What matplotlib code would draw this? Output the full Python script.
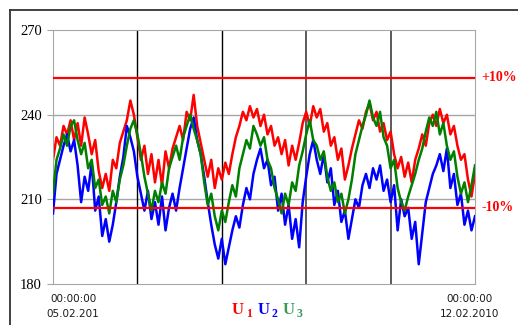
import numpy as np
import matplotlib.pyplot as plt
from matplotlib.lines import Line2D

# phase voltages, one reading every ~1.4 h over the week (V)
u1 = [224, 232, 229, 236, 233, 238, 231, 237, 229, 239,
      233, 226, 231, 220, 214, 219, 213, 224, 221, 230,
      234, 238, 245, 240, 232, 224, 229, 219, 226, 216,
      224, 215, 227, 221, 228, 232, 236, 231, 241, 238,
      247, 236, 230, 224, 218, 224, 214, 221, 217, 223,
      219, 226, 232, 236, 241, 238, 243, 239, 242, 236,
      240, 233, 236, 229, 232, 226, 231, 222, 229, 224,
      230, 237, 241, 236, 243, 239, 242, 234, 237, 229,
      232, 224, 228, 217, 222, 228, 233, 238, 235, 241,
      244, 238, 241, 234, 237, 231, 234, 226, 221, 225,
      218, 223, 216, 224, 228, 233, 229, 237, 240, 236,
      242, 237, 240, 233, 236, 229, 224, 226, 217, 211,
      219]
u2 = [205, 219, 224, 229, 233, 227, 231, 222, 209, 218,
      213, 223, 206, 211, 197, 203, 195, 201, 209, 218,
      225, 236, 232, 227, 218, 212, 206, 213, 203, 209,
      201, 211, 199, 207, 212, 206, 214, 221, 228, 235,
      239, 231, 226, 218, 209, 201, 194, 189, 196, 187,
      193, 199, 204, 200, 208, 214, 210, 219, 224, 228,
      221, 224, 215, 218, 206, 212, 201, 208, 196, 203,
      193, 209, 218, 226, 231, 224, 219, 226, 216, 221,
      208, 213, 202, 206, 196, 203, 210, 207, 215, 219,
      214, 221, 217, 222, 213, 217, 209, 215, 199, 210,
      204, 207, 196, 202, 187, 198, 209, 214, 219, 222,
      226, 220, 228, 214, 219, 208, 212, 201, 206, 199,
      204]
u3 = [212, 224, 228, 233, 229, 236, 238, 231, 226, 230,
      221, 224, 214, 217, 208, 211, 205, 213, 209, 217,
      222, 229, 235, 238, 233, 226, 218, 212, 206, 213,
      209, 216, 212, 221, 225, 229, 224, 232, 236, 240,
      235, 231, 226, 216, 208, 212, 204, 199, 206, 202,
      209, 215, 211, 221, 226, 231, 228, 236, 233, 229,
      232, 224, 221, 214, 210, 205, 212, 208, 216, 213,
      222, 227, 233, 238, 231, 229, 224, 227, 218, 213,
      216, 209, 212, 205, 210, 217, 226, 231, 236, 240,
      245, 239, 236, 241, 232, 229, 221, 224, 214, 209,
      206, 211, 215, 219, 224, 228, 234, 239, 236, 241,
      233, 237, 229, 224, 227, 218, 212, 216, 209, 215,
      222]

u_nom = 230
limits = [u_nom * 1.1, u_nom * 0.9]
limit_labels = ['+10%', '-10%']
yticks = [180, 210, 240, 270]
start_label = '00:00:00\n05.02.201'
end_label = '00:00:00\n12.02.2010'

t = np.arange(len(u1))
t_end = t[-1]

fig = plt.figure(figsize=(5.18, 3.25), dpi=100)
ax = fig.add_axes([0.1023, 0.1262, 0.8147, 0.7815])

for y in [210, 240]:
    ax.axhline(y, color='#a6a6a6', lw=1.0, zorder=1)
for k in range(1, 5):
    c = 'black' if k < 3 else '#5a5a5a'
    ax.axvline(t_end * k / 5, color=c, lw=1.0 if k < 3 else 1.4, zorder=1)

ax.plot(t, u1, color='#ff0000', lw=1.8, zorder=2)
ax.plot(t, u2, color='#0000ff', lw=1.8, zorder=3)
ax.plot(t, u3, color='#008000', lw=1.8, zorder=4)

for lim, lab in zip(limits, limit_labels):
    ax.axhline(lim, color='#ff0000', lw=1.6, zorder=5)
    ax.text(1.015, (lim - 180) / 90, lab, transform=ax.transAxes,
            color='#ff0000', fontsize=10, fontweight='bold',
            family='Liberation Serif', va='center', ha='left',
            clip_on=False)

ax.set_xlim(0, t_end)
ax.set_ylim(180, 270)
ax.set_yticks(yticks)
ax.set_xticks([])
for lab in ax.get_yticklabels():
    lab.set_family('Liberation Serif')
    lab.set_fontsize(10.5)
ax.tick_params(axis='y', length=4, color='#a6a6a6', pad=4)
for s in ax.spines.values():
    s.set_color('#a6a6a6')

fig.text(0.141, 0.058, start_label, ha='center', va='center',
         fontsize=7.5, family='DejaVu Sans', color='#1a1a1a', linespacing=1.6)
fig.text(0.907, 0.058, end_label, ha='center', va='center',
         fontsize=7.5, family='DejaVu Sans', color='#1a1a1a', linespacing=1.6)

# legend: U with subscripts
for x0, sub, col in [(0.448, '1', '#ff0000'), (0.497, '2', '#0000ff'),
                     (0.546, '3', '#3a9a5a')]:
    fig.text(x0, 0.035, 'U', color=col, fontsize=12, fontweight='bold',
             family='Liberation Serif', ha='left', va='baseline')
    fig.text(x0 + 0.027, 0.024, sub, color=col, fontsize=8.5,
             fontweight='bold', family='Liberation Serif',
             ha='left', va='baseline')

# outer frame of the chart area
fig.add_artist(Line2D([0.019, 1.0], [0.969, 0.969], color='#333333', lw=1.3))
fig.add_artist(Line2D([0.019, 0.019], [0.0, 0.969], color='#333333', lw=1.3))

fig.savefig('out.png', dpi=100)
